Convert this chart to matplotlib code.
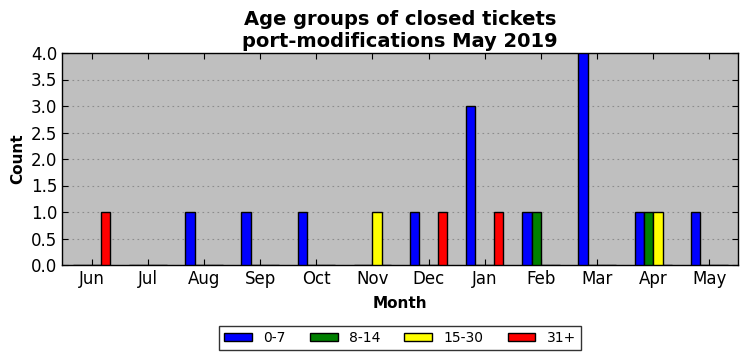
import matplotlib
matplotlib.use("Agg")
import matplotlib.pyplot as plt
import numpy as np

months = ["Jun", "Jul", "Aug", "Sep", "Oct", "Nov", "Dec", "Jan", "Feb", "Mar", "Apr", "May"]
g0_7 = [0, 0, 1, 1, 1, 0, 1, 3, 1, 4, 1, 1]
g8_14 = [0, 0, 0, 0, 0, 0, 0, 0, 1, 0, 1, 0]
g15_30 = [0, 0, 0, 0, 0, 1, 0, 0, 0, 0, 1, 0]
g31 = [1, 0, 0, 0, 0, 0, 1, 1, 0, 0, 0, 0]
series = [("0-7", g0_7, "blue"), ("8-14", g8_14, "green"),
          ("15-30", g15_30, "yellow"), ("31+", g31, "red")]

fig = plt.figure(figsize=(7.47, 3.61), dpi=100)
ax = fig.add_axes([62/747, 1-265/361, (738-62)/747, (265-53)/361])
ax.set_facecolor("#bfbfbf")
x = np.arange(len(months))
w = 1/6
for i, (lab, vals, col) in enumerate(series):
    ax.bar(x + (i-2)*w, vals, width=w, align="edge", color=col,
           edgecolor="black", linewidth=1.0, label=lab, zorder=3)
ax.set_xlim(-0.53, len(months)-1+0.51)
ax.set_ylim(0, 4)
ax.set_yticks(np.arange(0, 4.01, 0.5))
ax.set_xticks(x)
ax.set_xticklabels(months)
ax.tick_params(direction="in", top=True, right=True, labelsize=12, length=4)
ax.yaxis.grid(True, linestyle=(0, (1.5, 3)), color="#8c8c8c", linewidth=0.8, zorder=0)
ax.set_axisbelow(True)
for s in ax.spines.values():
    s.set_linewidth(1.0)
ax.set_ylabel("Count", fontsize=11, fontweight="bold")
ax.set_xlabel("Month", fontsize=11, fontweight="bold", labelpad=6)
ax.set_title("Age groups of closed tickets\nport-modifications May 2019",
             fontsize=14, fontweight="bold", linespacing=1.2, pad=4)
leg = ax.legend(loc="upper center", bbox_to_anchor=(0.5, -0.288), ncol=4,
                fancybox=False, edgecolor="black", fontsize=10,
                handlelength=2.0, handleheight=0.5, columnspacing=1.75,
                borderpad=0.35, borderaxespad=0)
leg.get_frame().set_linewidth(1.0)
fig.savefig("out.png", dpi=100)
